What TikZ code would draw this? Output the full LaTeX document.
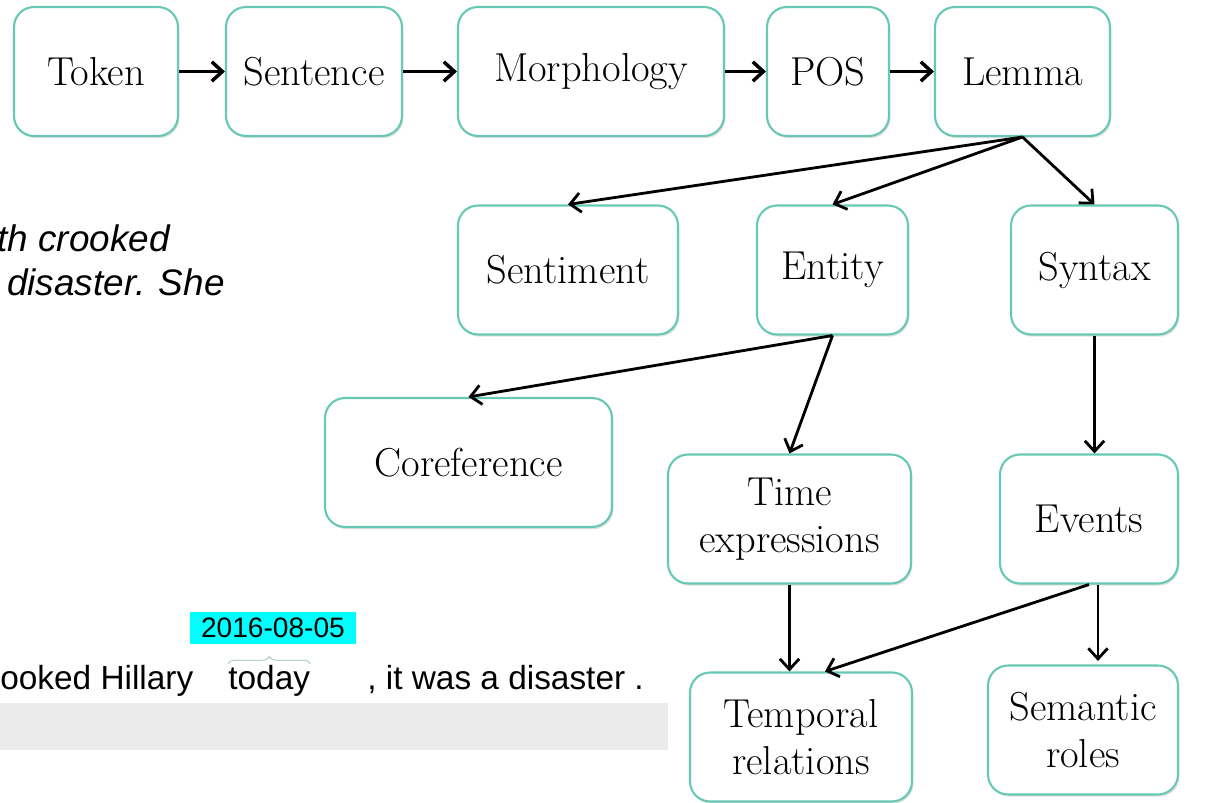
\documentclass[tikz,border=0pt]{standalone}
\usepackage{fontspec}
\newfontfamily\uifont{Liberation Sans}
\usetikzlibrary{arrows.meta, shadows, decorations.pathreplacing}
\definecolor{boxline}{RGB}{104,200,182}
\definecolor{hilite}{RGB}{0,255,255}
\definecolor{bargray}{RGB}{235,235,235}
\definecolor{bracecol}{RGB}{150,185,178}
\tikzset{
  stage/.style={draw=boxline, line width=1.2pt, rounded corners=0.4cm, fill=white, align=center,
    minimum height=2.58cm, font=\fontsize{23}{27}\selectfont,
    drop shadow={shadow xshift=0.8pt, shadow yshift=-1.2pt, opacity=0.25}},
  flow/.style={-{Straight Barb[length=6pt,width=11pt]}, line width=2pt},
  link/.style={-{Straight Barb[length=6pt,width=11pt]}, line width=1.6pt},
  snippet/.style={font=\uifont\fontsize{19}{23}\selectfont, inner sep=0pt}
}
\begin{document}
\begin{tikzpicture}[x=0.02cm, y=-0.02cm]
\useasboundingbox (0,0) rectangle (1218,803);
% screenshot pieces behind the chart
\fill[bargray] (0,703) rectangle (668,750);
\node[snippet, font=\uifont\itshape\fontsize{21}{25}\selectfont, anchor=base east] (line1) at (170,252) {th crooked};
\node[snippet, font=\uifont\itshape\fontsize{21}{25}\selectfont, anchor=base east] (line2) at (225,296) {disaster. She};
\node[snippet, anchor=base west] (hillary) at (0,690) {ooked Hillary};
\node[snippet, anchor=base west] (today) at (228,690) {today};
\node[snippet, anchor=base west] (rest) at (367,690) {, it was a disaster .};
\node[fill=hilite, minimum width=3.34cm, minimum height=0.66cm, inner sep=0pt, font=\uifont\fontsize{16}{18}\selectfont] (date) at (273,628) {2016-08-05};
\draw[bracecol, decorate, decoration={brace, amplitude=4pt}] ([yshift=1pt]today.north west) -- ([yshift=1pt]today.north east);
% pipeline
\node[stage, minimum width=3.28cm] (token) at (96,71.5) {Token};
\node[stage, minimum width=3.52cm] (sentence) at (314,71.5) {Sentence};
\node[stage, minimum width=5.32cm] (morph) at (591,71.5) {Morphology};
\node[stage, minimum width=2.44cm] (pos) at (828,71.5) {POS};
\node[stage, minimum width=3.5cm] (lemma) at (1022.5,71.5) {Lemma};
\node[stage, minimum width=4.4cm] (sentiment) at (568,270) {Sentiment};
\node[stage, minimum width=3.02cm] (entity) at (832.5,270) {Entity};
\node[stage, minimum width=3.34cm] (syntax) at (1094.5,270) {Syntax};
\node[stage, minimum width=5.74cm] (coref) at (468.5,462.5) {Coreference};
\node[stage, minimum width=4.86cm] (timex) at (789.5,519) {Time\\expressions};
\node[stage, minimum width=3.56cm] (events) at (1089,519) {Events};
\node[stage, minimum width=4.44cm] (temprel) at (801,737) {Temporal\\relations};
\node[stage, minimum width=3.8cm] (semroles) at (1083,730) {Semantic\\roles};
% Arrows
\draw[flow] (token) -- (sentence);
\draw[flow] (sentence) -- (morph);
\draw[flow] (morph) -- (pos);
\draw[flow] (pos) -- (lemma);
\draw[link] (lemma.south) -- (sentiment.north);
\draw[link] (lemma.south) -- (entity.north);
\draw[link] (lemma.south) -- (syntax.north);
\draw[link] (entity.south) -- (coref.north);
\draw[link] (entity.south) -- (timex.north);
\draw[link] (syntax.south) -- (syntax.south |- events.north);
\draw[link] (timex.south) -- (timex.south |- temprel.north);
\draw[link] (events.south) -- ([xshift=0.48cm]temprel.north);
\draw[link, shorten >=2pt] ([xshift=0.18cm]events.south) -- ([xshift=0.18cm]events.south |- semroles.north);
\end{tikzpicture}
\end{document}
